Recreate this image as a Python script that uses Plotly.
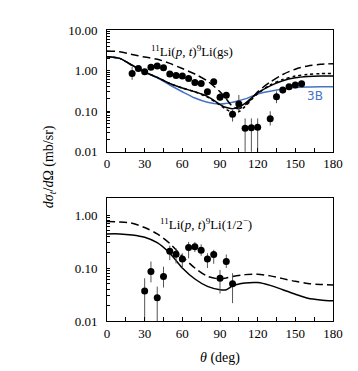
import plotly.graph_objects as go

# --- data ---
# upper panel: 11Li(p,t)9Li(gs)
gs_theta = [20, 25, 30, 35, 40, 45, 50, 55, 60, 65, 70, 75, 80, 85, 90, 95, 100, 105,
            110, 115, 120, 130, 135, 140, 145, 150, 155]
gs_xs = [0.85, 1.13, 0.94, 1.2, 1.29, 1.18, 0.82, 0.75, 0.73, 0.64, 0.51, 0.48, 0.30, 0.53,
         0.22, 0.245, 0.083, 0.149, 0.038, 0.039, 0.040, 0.065, 0.227, 0.33, 0.40, 0.44, 0.47]
gs_err_up = [0.40, 0.15, 0.10, 0.10, 0.10, 0.10, 0.05, 0.05, 0.05, 0.05, 0.05, 0.05, 0.05, 0.05,
             0.06, 0.05, 0.024, 0.10, 0.028, 0.027, 0.026, 0.034, 0.08, 0.06, 0.06, 0.06, 0.06]
gs_err_dn = [0.26, 0.15, 0.10, 0.10, 0.10, 0.08, 0.05, 0.05, 0.05, 0.05, 0.05, 0.05, 0.05, 0.05,
             0.04, 0.05, 0.028, 0.05, 0.035, 0.036, 0.037, 0.021, 0.07, 0.06, 0.06, 0.06, 0.06]

gs_curve_theta = [0, 10, 20, 30, 40, 50, 60, 70, 80, 90, 95, 100, 105, 110, 115, 120,
                  130, 140, 150, 160, 170, 180]
gs_solid = [2.2, 2.0, 1.35, 0.92, 0.68, 0.48, 0.37, 0.30, 0.23, 0.145, 0.122, 0.115, 0.125,
            0.155, 0.21, 0.28, 0.42, 0.56, 0.66, 0.71, 0.73, 0.73]
gs_dotted = [2.2, 2.0, 1.35, 0.92, 0.68, 0.48, 0.37, 0.30, 0.22, 0.14, 0.11, 0.092, 0.097,
             0.13, 0.19, 0.27, 0.44, 0.60, 0.73, 0.80, 0.84, 0.85]
gs_dashed = [3.05, 2.9, 2.5, 2.15, 1.9, 1.5, 1.12, 0.82, 0.55, 0.30, 0.20, 0.13, 0.115,
             0.14, 0.2, 0.3, 0.52, 0.80, 1.08, 1.30, 1.42, 1.48]
gs_3b = [2.2, 2.0, 1.35, 0.92, 0.66, 0.44, 0.30, 0.21, 0.165, 0.15, 0.155, 0.165, 0.18,
         0.2, 0.23, 0.265, 0.31, 0.35, 0.38, 0.395, 0.40, 0.40]

# lower panel: 11Li(p,t)9Li(1/2-)
ex_theta = [30, 35, 40, 45, 50, 55, 60, 65, 70, 75, 80, 85, 90, 95, 100]
ex_xs = [0.037, 0.0855, 0.0276, 0.0688, 0.206, 0.181, 0.148, 0.243, 0.253, 0.216, 0.148,
         0.179, 0.064, 0.132, 0.0507]
ex_err_up = [0.027, 0.047, 0.017, 0.037, 0.058, 0.054, 0.042, 0.067, 0.057, 0.064, 0.042,
             0.041, 0.028, 0.048, 0.029]
ex_err_dn = [0.034, 0.032, 0.025, 0.026, 0.065, 0.059, 0.048, 0.091, 0.053, 0.046, 0.048,
             0.059, 0.031, 0.032, 0.029]

ex_curve_theta = [0, 10, 20, 30, 40, 50, 60, 70, 80, 90, 95, 100, 110, 120, 130, 140, 150,
                  160, 170, 180]
ex_solid = [0.44, 0.44, 0.42, 0.38, 0.30, 0.19, 0.10, 0.062, 0.045, 0.039, 0.039, 0.046,
            0.052, 0.053, 0.047, 0.039, 0.032, 0.027, 0.025, 0.024]
ex_dashed = [0.75, 0.74, 0.70, 0.58, 0.44, 0.29, 0.165, 0.10, 0.07, 0.062, 0.065, 0.069,
             0.075, 0.076, 0.071, 0.063, 0.056, 0.051, 0.049, 0.048]

x_ticks = [0, 30, 60, 90, 120, 150, 180]
y_major = {0.01: "0.01", 0.1: "0.10", 1: "1.00", 10: "10.00"}
# log ticks 1..9 per decade, labels only on the decades
y_tickvals = [m * 10 ** e for e in (-2, -1, 0) for m in range(1, 10)] + [10]
y_ticktext = [y_major.get(round(v, 4), "") for v in y_tickvals]

SERIF = "Liberation Serif"
BLUE = "#4472C4"

fig = go.Figure()


def curve(x, y, ax, color="black", dash="solid", width=1.5):
    fig.add_trace(go.Scatter(x=x, y=y, mode="lines", line=dict(color=color, dash=dash, width=width,
                                                                shape="spline", smoothing=0.8),
                             xaxis=ax[0], yaxis=ax[1], showlegend=False, hoverinfo="skip"))


def points(x, y, up, dn, ax):
    fig.add_trace(go.Scatter(x=x, y=y, mode="markers",
                             marker=dict(color="black", size=7),
                             error_y=dict(type="data", array=up, arrayminus=dn, color="#555555",
                                          thickness=1, width=0),
                             xaxis=ax[0], yaxis=ax[1], showlegend=False))


top = ("x", "y")
bot = ("x2", "y2")
curve(gs_curve_theta, gs_3b, top, color=BLUE)
curve(gs_curve_theta, gs_dashed, top, dash="8px,4px")
curve(gs_curve_theta, gs_dotted, top, dash="dot")
curve(gs_curve_theta, gs_solid, top)
points(gs_theta, gs_xs, gs_err_up, gs_err_dn, top)

curve(ex_curve_theta, ex_dashed, bot, dash="8px,4px")
curve(ex_curve_theta, ex_solid, bot)
points(ex_theta, ex_xs, ex_err_up, ex_err_dn, bot)

xax = dict(range=[0, 180], tickvals=x_ticks, ticks="inside", ticklen=4, tickcolor="black",
           minor=dict(dtick=15, ticks="inside", ticklen=4, tickcolor="black"),
           showline=True, linecolor="black", linewidth=1, mirror=True, showgrid=False,
           zeroline=False, tickfont=dict(family=SERIF, size=13, color="black"))
yax = dict(type="log", tickvals=y_tickvals, ticktext=y_ticktext, ticks="inside", ticklen=3,
           tickcolor="black", tickwidth=1,
           showline=True, linecolor="black", linewidth=1, mirror=True, showgrid=False,
           zeroline=False, ticklabelstandoff=6,
           tickfont=dict(family=SERIF, size=13, color="black"))

fig.update_layout(
    width=358, height=371,
    margin=dict(l=99, r=33, t=22, b=58),
    paper_bgcolor="white", plot_bgcolor="white",
    xaxis=dict(xax, domain=[0, 1], anchor="y"),
    yaxis=dict(yax, range=[-2, 1], domain=[0.582, 1], anchor="x"),
    xaxis2=dict(xax, domain=[0, 1], anchor="y2"),
    yaxis2=dict(yax, range=[-2, 0.315], domain=[0, 0.4216], anchor="x2"),
    font=dict(family=SERIF, color="black"),
)

fig.add_annotation(text="<sup>11</sup>Li(<i>p</i>, <i>t</i>)<sup>9</sup>Li(gs)",
                   xref="x", yref="y domain", x=68, y=0.91, showarrow=False,
                   font=dict(family=SERIF, size=13, color="black"))
fig.add_annotation(text="3B", xref="x", yref="y", x=166, y=-0.62, showarrow=False,
                   font=dict(family="DejaVu Sans", size=12, color=BLUE))
fig.add_annotation(text="<sup>11</sup>Li(<i>p</i>, <i>t</i>)<sup>9</sup>Li(1/2<sup>−</sup>)",
                   xref="x2", yref="y2 domain", x=79, y=0.87, showarrow=False,
                   font=dict(family=SERIF, size=13, color="black"))
fig.add_annotation(text="<i>dσ<sub>t</sub></i>/<i>d</i>Ω (mb/sr)", textangle=-90,
                   xref="paper", yref="paper", x=-0.255, y=0.53, xanchor="center",
                   showarrow=False, font=dict(family=SERIF, size=14, color="black"))
fig.add_annotation(text="<i>θ</i> (deg)", xref="paper", yref="paper", x=0.5, y=-0.16,
                   showarrow=False, font=dict(family=SERIF, size=14, color="black"))

fig.write_html("out.html")
